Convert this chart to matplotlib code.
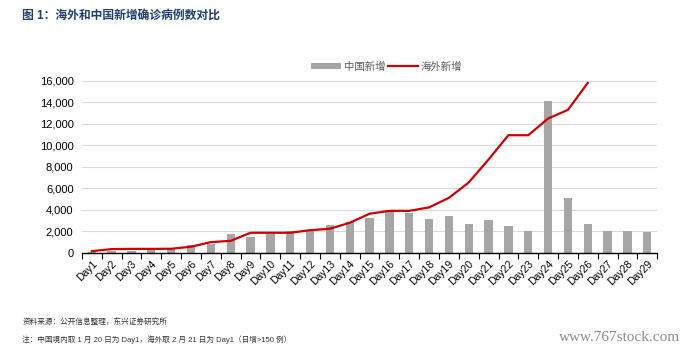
import numpy as np
import matplotlib
matplotlib.use("Agg")
import matplotlib.pyplot as plt
from matplotlib.ticker import FuncFormatter, FixedLocator

plt.rcParams['font.family'] = ['Liberation Sans', 'Noto Sans CJK SC', 'DejaVu Sans']

# Data
days = [f"Day{i}" for i in range(1, 30)]
china_new = [77, 149, 131, 259, 444, 688, 769, 1771, 1459, 1737, 1982, 2102, 2590, 2829,
             3235, 3887, 3694, 3143, 3399, 2656, 3062, 2478, 2015, 14108, 5090, 2641,
             2009, 2048, 1886]
overseas_new = [150, 340, 360, 360, 370, 560, 990, 1110, 1860, 1860, 1860, 2100, 2230, 2790,
                3630, 3900, 3900, 4220, 5110, 6540, 8680, 10940, 10940, 12490, 13300, 15810]

title = "图 1：海外和中国新增确诊病例数对比"
source_note = "资料来源：公开信息整理，东兴证券研究所"
foot_note = "注：中国境内取 1 月 20 日为 Day1，海外取 2 月 21 日为 Day1（日增>150 例）"

fig = plt.figure(figsize=(6.94, 3.53), dpi=100)
ax = fig.add_axes([0.118, 0.284, 0.829, 0.487])

x = np.arange(len(days))
bars = ax.bar(x, china_new, width=0.42, color='#a6a6a6', label='中国新增', zorder=2)
line, = ax.plot(np.arange(len(overseas_new)), overseas_new, color='#d00000', lw=1.6,
                label='海外新增', zorder=3)

ax.set_xlim(-0.5, len(days) - 0.5)
ax.set_ylim(0, 16000)
ax.set_yticks(np.arange(0, 16001, 2000))
ax.yaxis.set_major_formatter(FuncFormatter(lambda v, p: f"{int(v):,}"))
ax.grid(axis='y', color='#d9d9d9', lw=0.8, zorder=0)
ax.set_axisbelow(True)

for s in ['top', 'right', 'left']:
    ax.spines[s].set_visible(False)
ax.spines['bottom'].set_color('black')
ax.spines['bottom'].set_linewidth(1.0)

ax.set_xticks(x)
ax.set_xticklabels(days, rotation=45, ha='right', rotation_mode='anchor', fontsize=7.5)
ax.xaxis.set_minor_locator(FixedLocator(np.arange(-0.5, len(days), 1.0)))
ax.tick_params(axis='x', which='major', length=0, pad=4)
ax.tick_params(axis='x', which='minor', length=4, width=0.8, direction='out')
ax.tick_params(axis='y', length=0, labelsize=8, pad=6)

leg = ax.legend([bars, line], ['中国新增', '海外新增'], loc='lower center',
                bbox_to_anchor=(0.53, 1.03), ncol=2, frameon=False,
                fontsize=7.5, handlelength=2.8, handleheight=0.6, columnspacing=0.3,
                handletextpad=0.3, borderaxespad=0)
for t in leg.get_texts():
    t.set_color('#595959')
    t.set_family(['Noto Sans CJK SC', 'DejaVu Sans'])

fig.text(0.032, 0.955, title, fontsize=8.5, fontweight='bold', color='#1f3f6e',
         family=['Liberation Sans', 'Noto Sans CJK SC'], va='center')
fig.text(0.032, 0.088, source_note, fontsize=5.5, color='#333333',
         family=['Noto Sans CJK SC'], va='center')
fig.text(0.032, 0.038, foot_note, fontsize=5.5, color='#333333',
         family=['Liberation Sans', 'Noto Sans CJK SC'], va='center')
fig.text(0.98, 0.045, "www.767stock.com", fontsize=11, color='#8c8c8c',
         family='Liberation Serif', ha='right', va='center')

fig.savefig("out.png", dpi=100)
